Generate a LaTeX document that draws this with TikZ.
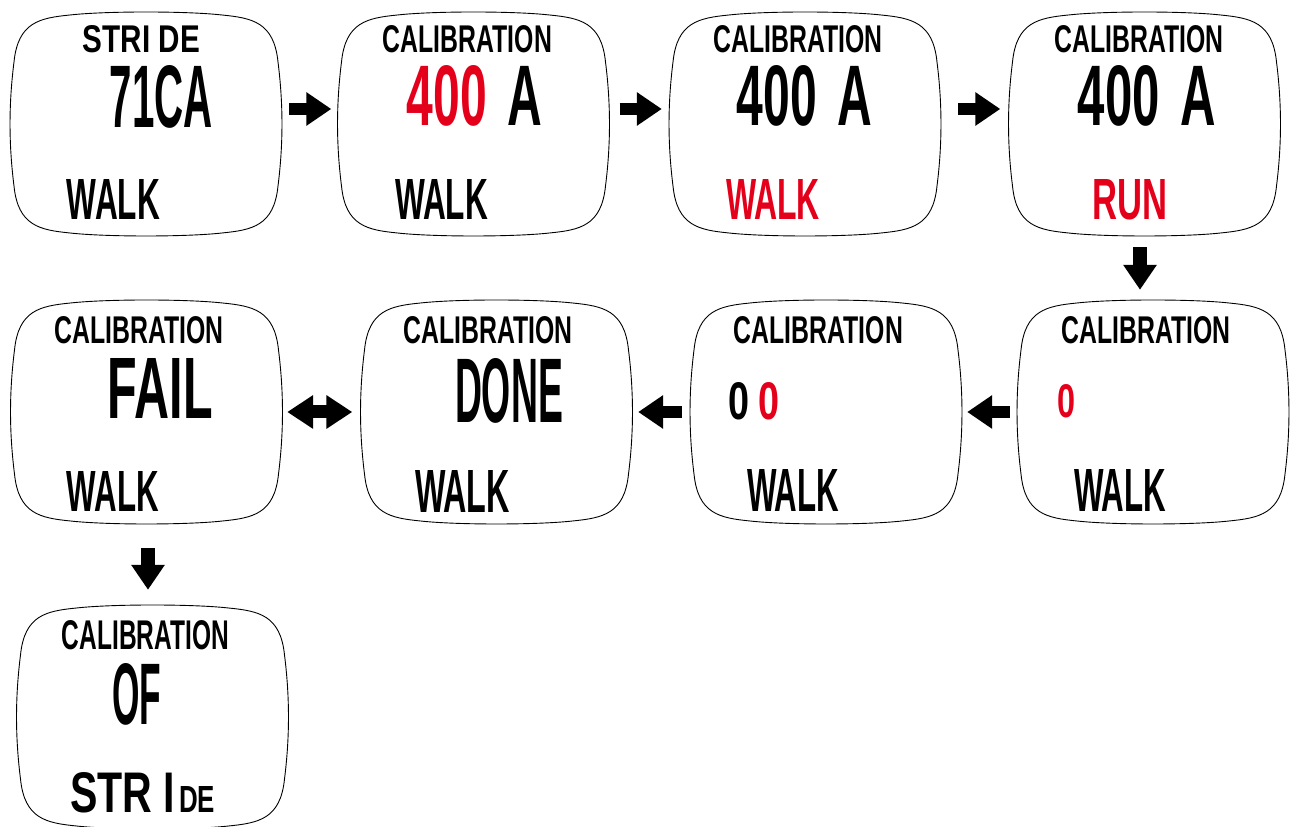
\documentclass[tikz,border=0pt]{standalone}
\usepackage{fontspec}
\setmainfont{Liberation Sans}
\usepackage{graphicx}
\usetikzlibrary{arrows.meta,positioning}
\definecolor{LcdRed}{RGB}{228,0,27}
\newcommand{\lcd}[3]{\resizebox{#1pt}{#2pt}{#3}}

\begin{document}
\begin{tikzpicture}[x=1pt,y=1pt,
    screen/.style={rectangle,minimum width=272pt,minimum height=224pt,inner sep=0pt},
    screenline/.style={draw=black,line width=.9pt},
    lcdtext/.style={inner sep=0pt,font=\bfseries},
    bigarrow/.style={line width=12pt,-{Triangle[length=25pt,width=32pt]}},
    twoarrow/.style={line width=13pt,{Triangle[length=26pt,width=32pt]}-{Triangle[length=26pt,width=32pt]}}]
  \useasboundingbox (0,0) rectangle (1291,827);
  % screens
  \node[screen] (s1) at (146,703) {};
  \node[screen] (s2) at (473.5,703) {};
  \node[screen] (s3) at (805,703) {};
  \node[screen] (s4) at (1144.5,703) {};
  \node[screen] (s5) at (1153,415) {};
  \node[screen] (s6) at (826,415) {};
  \node[screen] (s7) at (496.5,415) {};
  \node[screen] (s8) at (146.5,415) {};
  \node[screen] (s9) at (152.5,110) {};
  \foreach \s in {s1,s2,s3,s4,s5,s6,s7,s8,s9}{
    \begin{scope}[shift={(\s.center)}]
      \draw[screenline] (-132,62) .. controls (-128,102) and (-106,106) .. (-76,109)
        .. controls (-40,113) and (40,113) .. (76,109)
        .. controls (106,106) and (128,102) .. (132,62)
        .. controls (137.3,20) and (137.3,-20) .. (132,-62)
        .. controls (128,-102) and (106,-106) .. (76,-109)
        .. controls (40,-113) and (-40,-113) .. (-76,-109)
        .. controls (-106,-106) and (-128,-102) .. (-132,-62)
        .. controls (-137.3,-20) and (-137.3,20) .. cycle;
    \end{scope}}
  % texts
  \node[lcdtext] (s1top) at (141.5,788) {\lcd{117}{27}{STRI DE}};
  \node[lcdtext] (s1mid) at (161.5,730) {\lcd{103}{62}{71CA}};
  \node[lcdtext] (s1bot) at (113.5,627) {\lcd{93}{40}{WALK}};
  \node[lcdtext] (s2top) at (467.5,788) {\lcd{169}{27}{CALIBRATION}};
  \node[lcdtext] (s2mid) at (474.5,731) {\lcd{135}{60}{{\color{LcdRed}400}\hspace{.42em}A}};
  \node[lcdtext] (s2bot) at (441.5,627) {\lcd{93}{40}{WALK}};
  \node[lcdtext] (s3top) at (798,788) {\lcd{169}{27}{CALIBRATION}};
  \node[lcdtext] (s3mid) at (804.5,731) {\lcd{135}{60}{400\hspace{.42em}A}};
  \node[lcdtext,text=LcdRed] (s3bot) at (773,627) {\lcd{94}{40}{WALK}};
  \node[lcdtext] (s4top) at (1139,788) {\lcd{169}{27}{CALIBRATION}};
  \node[lcdtext] (s4mid) at (1147,731) {\lcd{138}{60}{400\hspace{.42em}A}};
  \node[lcdtext,text=LcdRed] (s4bot) at (1129.5,627) {\lcd{75}{40}{RUN}};
  \node[lcdtext] (s5top) at (1146,497) {\lcd{169}{27}{CALIBRATION}};
  \node[lcdtext,text=LcdRed] (s5mid) at (1066,426) {\lcd{18}{33}{0}};
  \node[lcdtext] (s5bot) at (1120,336) {\lcd{92}{42}{WALK}};
  \node[lcdtext] (s6top) at (818.5,497) {\lcd{169}{27}{CALIBRATION}};
  \node[lcdtext] (s6mid) at (753.5,425.5) {\lcd{21}{37}{0}\hspace{9pt}\lcd{21}{37}{\color{LcdRed}0}};
  \node[lcdtext] (s6bot) at (793,336) {\lcd{92}{42}{WALK}};
  \node[lcdtext] (s7top) at (488,497) {\lcd{169}{27}{CALIBRATION}};
  \node[lcdtext] (s7mid) at (509,436) {\lcd{108}{64}{DONE}};
  \node[lcdtext] (s7bot) at (462.5,335) {\lcd{95}{42}{WALK}};
  \node[lcdtext] (s8top) at (139,497) {\lcd{169}{27}{CALIBRATION}};
  \node[lcdtext] (s8mid) at (160.5,438.5) {\lcd{105}{60}{FAIL}};
  \node[lcdtext] (s8bot) at (113,335) {\lcd{92}{40}{WALK}};
  \node[lcdtext] (s9top) at (145.5,192) {\lcd{167}{29}{CALIBRATION}};
  \node[lcdtext] (s9mid) at (136.5,132.5) {\lcd{49}{61}{OF}};
  \node[lcdtext,anchor=base west] (s9bot) at (70,14)
    {\lcd{105}{40}{STR I}\hspace{4pt}\lcd{36}{26}{DE}};
  % arrows
  \draw[bigarrow,shorten <=7pt,shorten >=6pt] ([yshift=15pt]s1.east) -- ([yshift=15pt]s2.west);
  \draw[bigarrow,shorten <=10pt,shorten >=7pt] ([yshift=15pt]s2.east) -- ([yshift=15pt]s3.west);
  \draw[bigarrow,shorten <=17pt,shorten >=8pt] ([yshift=15pt]s3.east) -- ([yshift=15pt]s4.west);
  \draw[bigarrow,line width=14pt,shorten <=11pt,shorten >=10pt] ([xshift=-4.5pt]s4.south) -- ([xshift=-4.5pt]s4.south |- s5.north);
  \draw[bigarrow,shorten <=7pt,shorten >=5pt] (s5.west) -- (s6.east);
  \draw[bigarrow,shorten <=8pt,shorten >=5.5pt] (s6.west) -- (s7.east);
  \draw[twoarrow,shorten <=4.5pt,shorten >=8pt] (s8.east) -- (s7.west);
  \draw[bigarrow,line width=14pt,shorten <=24pt,shorten >=15pt] ([xshift=1.5pt]s8.south) -- ([xshift=1.5pt]s8.south |- s9.north);
\end{tikzpicture}
\end{document}
